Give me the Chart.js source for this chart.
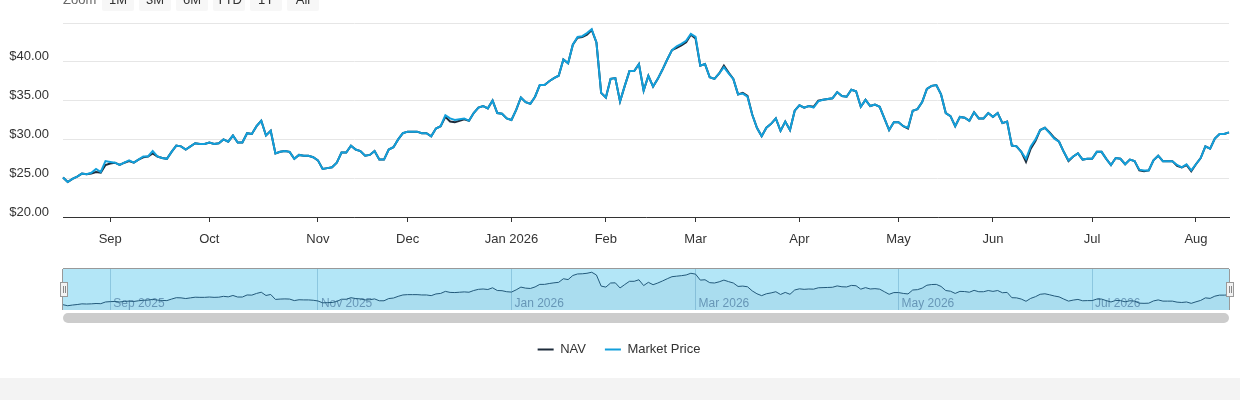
<!DOCTYPE html>
<html>
<head>
<meta charset="utf-8">
<title>NAV vs Market Price</title>
<script src="https://cdn.jsdelivr.net/npm/chart.js@4.4.1/dist/chart.umd.min.js"></script>
<style>
  html, body { margin: 0; padding: 0; background: #f3f3f3; }
  #wrap { position: relative; width: 1240px; height: 378px; background: #fff; overflow: hidden;
          font-family: "Liberation Sans", Arial, sans-serif; }
  #main { position: absolute; left: 0; top: 0; }
  .zoom-lbl { position: absolute; top: -11px; left: 63px; height: 22px; line-height: 22px; font-size: 13px; color: #666; }
  .rbtn { position: absolute; top: -11px; width: 32px; height: 22px; line-height: 22px; text-align: center;
          font-size: 13px; color: #333; background: #f7f7f7; border-radius: 2px; }
  #navWrap { position: absolute; left: 63px; top: 269px; width: 1166px; height: 41px;
             box-shadow: 0 -1px 0 #999, -1px 0 0 #999, 1px 0 0 #999; background: #b3e6f7; }
  #nav { position: absolute; left: 0; top: 0; }
  .handle { position: absolute; top: 282px; width: 8px; height: 15px; box-sizing: border-box;
            border: 1px solid #999; background: #f2f2f2; }
  .handle::before, .handle::after { content: ""; position: absolute; top: 3px; width: 1px; height: 7px; background: #888; }
  .handle::before { left: 2px; }
  .handle::after { left: 4px; }
  #scroll { position: absolute; left: 63px; top: 313px; width: 1166px; height: 10px; background: #ccc; border-radius: 5px; }
</style>
</head>
<body>
<div id="wrap">
  <canvas id="main" width="1240" height="378"></canvas>
  <div class="zoom-lbl">Zoom</div>
  <div class="rbtn" style="left:102px">1M</div>
  <div class="rbtn" style="left:139px">3M</div>
  <div class="rbtn" style="left:176px">6M</div>
  <div class="rbtn" style="left:213px">YTD</div>
  <div class="rbtn" style="left:250px">1Y</div>
  <div class="rbtn" style="left:287px">All</div>
  <div id="navWrap"><canvas id="nav" width="1166" height="41"></canvas></div>
  <div class="handle" style="left:60px"></div>
  <div class="handle" style="left:1226px"></div>
  <div id="scroll"></div>
</div>
<script>
// trading days from startDate, skipping weekends and these market holidays
const startDate = '2025-08-18';
const holidays = ['2025-09-01', '2025-11-27', '2025-12-25', '2026-01-01', '2026-01-19',
  '2026-02-16', '2026-04-03', '2026-05-25', '2026-06-19', '2026-07-03'];
const monthNames = ['Jan', 'Feb', 'Mar', 'Apr', 'May', 'Jun', 'Jul', 'Aug', 'Sep', 'Oct', 'Nov', 'Dec'];

const marketPrice = [
  25.1, 24.5, 24.9, 25.2, 25.6, 25.5, 25.7, 26.2, 25.8, 27.2,
  27.1, 27.0, 26.7, 27.0, 27.3, 27.0, 27.4, 27.8, 27.8, 28.5,
  27.8, 27.6, 27.5, 28.4, 29.2, 29.1, 28.7, 29.1, 29.5, 29.4,
  29.4, 29.6, 29.4, 29.5, 30.0, 29.7, 30.5, 29.6, 29.6, 30.8,
  30.7, 31.7, 32.4, 30.5, 31.1, 28.2, 28.4, 28.5, 28.4, 27.5,
  28.0, 27.9, 27.9, 27.7, 27.3, 26.2, 26.3, 26.4, 27.0, 28.3,
  28.3, 29.2, 28.7, 28.5, 27.9, 28.0, 28.5, 27.4, 27.4, 28.7,
  29.0, 30.0,
  30.8, 31.0, 31.0, 31.0, 30.8, 30.8, 30.4, 31.4, 31.7, 33.1,
  32.7, 32.5, 32.6, 32.7, 32.4, 33.4, 34.1, 34.3, 34.0, 35.0,
  33.4, 33.3, 32.7, 32.5, 33.8, 35.4, 34.8, 34.6, 35.5, 37.0,
  37.0, 37.5, 37.9, 38.2, 40.3, 39.8, 42.2, 43.2, 43.3, 43.7,
  44.2, 42.5, 36.0, 35.4, 37.8, 37.9, 34.9, 36.9, 38.8, 38.8,
  39.7, 36.3, 38.2, 36.8, 37.8, 39.0, 40.3, 41.5, 42.0, 42.3,
  42.7, 43.6, 43.2, 39.5, 39.7, 38.0, 37.8, 38.5, 39.3, 38.5,
  37.8, 35.8, 35.9, 35.5, 33.2, 31.5, 30.4, 31.5, 32.0, 32.7,
  31.1, 32.3, 31.2, 33.7, 34.4, 34.1, 34.3, 34.1, 34.9,
  35.1, 35.2, 35.3, 36.1, 35.6, 35.5, 36.4, 36.2, 34.2, 35.1,
  34.3, 34.5, 34.2, 32.7, 31.2, 32.2, 32.2, 31.7, 31.5, 33.7,
  33.9, 34.8, 36.5, 36.9, 37.0, 35.8, 33.4, 33.0, 31.7, 32.9,
  32.8, 32.4, 33.5, 32.7, 32.7, 33.4, 32.9, 33.4, 32.1, 32.3,
  29.2, 29.1, 28.4, 27.5, 29.1, 30.0, 31.2, 31.5, 30.8, 30.1,
  29.7, 28.4, 27.3, 27.8, 28.2, 27.4, 27.5, 27.5, 28.4, 28.4,
  27.5, 26.7, 27.6, 27.5, 26.8, 27.4, 27.2, 26.1, 26.0, 26.0,
  27.3, 27.9, 27.2, 27.2, 27.2, 26.7, 26.4, 26.8, 26.0, 26.8,
  27.6, 29.1, 28.8, 30.1, 30.7, 30.7, 30.9
];

const nav = [
  25.1, 24.5, 24.9, 25.2, 25.6, 25.5, 25.6, 25.8, 25.7, 26.7,
  26.9, 27.0, 26.7, 27.0, 27.2, 27.0, 27.4, 27.7, 27.8, 28.2,
  27.8, 27.6, 27.5, 28.4, 29.2, 29.1, 28.7, 29.1, 29.5, 29.4,
  29.4, 29.6, 29.4, 29.5, 30.0, 29.7, 30.5, 29.6, 29.6, 30.8,
  30.7, 31.7, 32.4, 30.5, 31.1, 28.2, 28.4, 28.5, 28.4, 27.5,
  28.0, 27.9, 27.9, 27.7, 27.3, 26.2, 26.3, 26.4, 27.0, 28.3,
  28.3, 29.2, 28.7, 28.5, 27.9, 28.0, 28.5, 27.4, 27.4, 28.7,
  29.0, 30.0,
  30.8, 31.0, 31.0, 31.0, 30.8, 30.8, 30.4, 31.4, 31.7, 32.9,
  32.3, 32.2, 32.4, 32.6, 32.4, 33.4, 34.1, 34.3, 34.0, 35.0,
  33.4, 33.3, 32.7, 32.5, 33.8, 35.4, 34.8, 34.6, 35.5, 37.0,
  37.0, 37.5, 37.9, 38.2, 40.3, 39.8, 42.2, 43.1, 43.2, 43.5,
  44.1, 42.5, 36.0, 35.4, 37.8, 37.9, 34.9, 36.9, 38.8, 38.8,
  39.7, 36.3, 38.2, 36.8, 37.8, 39.0, 40.3, 41.5, 41.8, 42.1,
  42.5, 43.5, 43.0, 39.5, 39.7, 38.0, 37.8, 38.5, 39.5, 38.6,
  37.8, 35.8, 36.0, 35.6, 33.2, 31.5, 30.4, 31.5, 32.0, 32.7,
  31.1, 32.3, 31.2, 33.7, 34.4, 34.1, 34.3, 34.2, 35.0,
  35.1, 35.2, 35.3, 36.1, 35.6, 35.5, 36.4, 36.2, 34.2, 35.1,
  34.3, 34.5, 34.2, 32.7, 31.2, 32.2, 32.2, 31.7, 31.4, 33.7,
  33.9, 34.8, 36.5, 36.9, 37.0, 35.8, 33.4, 33.0, 31.7, 32.9,
  32.8, 32.4, 33.5, 32.7, 32.7, 33.4, 32.9, 33.4, 32.1, 32.3,
  29.2, 29.1, 28.4, 27.1, 28.8, 29.8, 31.2, 31.5, 30.9, 30.2,
  29.7, 28.4, 27.2, 27.8, 28.2, 27.4, 27.5, 27.5, 28.4, 28.4,
  27.5, 26.7, 27.6, 27.5, 26.8, 27.4, 27.2, 26.0, 25.9, 26.0,
  27.3, 27.9, 27.2, 27.2, 27.2, 26.6, 26.4, 26.7, 25.9, 26.8,
  27.6, 29.1, 28.8, 30.1, 30.7, 30.7, 30.9
];

function tradingDays(start, count, skip) {
  const out = [];
  const d = new Date(start + 'T00:00:00Z');
  while (out.length < count) {
    const wd = d.getUTCDay();
    const iso = d.toISOString().slice(0, 10);
    if (wd !== 0 && wd !== 6 && !skip.includes(iso)) out.push(iso);
    d.setUTCDate(d.getUTCDate() + 1);
  }
  return out;
}

const labels = tradingDays(startDate, marketPrice.length, holidays);
const monthOf = i => Number(labels[i].slice(5, 7)) - 1;
const yearOf = i => labels[i].slice(0, 4);
const isMonthStart = i => i > 0 && labels[i].slice(0, 7) !== labels[i - 1].slice(0, 7);
const isNavTick = i => isMonthStart(i) && monthOf(i) % 2 === 0;

Chart.defaults.font.family = '"Liberation Sans", Arial, sans-serif';
Chart.defaults.color = '#333';

new Chart(document.getElementById('main'), {
  type: 'line',
  data: {
    labels: labels,
    datasets: [{
      label: 'NAV',
      data: nav,
      borderColor: '#1d2b3a',
      backgroundColor: '#1d2b3a',
      borderWidth: 2,
      pointRadius: 0,
      order: 1
    }, {
      label: 'Market Price',
      data: marketPrice,
      borderColor: '#129fdb',
      backgroundColor: '#129fdb',
      borderWidth: 2,
      pointRadius: 0,
      order: 0
    }]
  },
  options: {
    responsive: false,
    animation: false,
    events: [],
    layout: { padding: { top: 23, right: 11, left: 9, bottom: 12 } },
    plugins: {
      tooltip: { enabled: false },
      legend: {
        position: 'bottom',
        labels: {
          usePointStyle: true,
          pointStyle: 'line',
          pointStyleWidth: 16,
          padding: 19,
          font: { size: 13 },
          color: '#333',
          sort: (a, b) => a.datasetIndex - b.datasetIndex
        }
      }
    },
    scales: {
      x: {
        type: 'category',
        border: { color: '#333', width: 1 },
        grid: {
          drawOnChartArea: false,
          drawTicks: true,
          tickLength: 5,
          tickColor: ctx => isMonthStart(ctx.index) ? '#333' : 'rgba(0,0,0,0)'
        },
        ticks: {
          autoSkip: false,
          maxRotation: 0,
          minRotation: 0,
          padding: 10,
          font: { size: 13 },
          color: '#333',
          callback: (value, index) => {
            if (!isMonthStart(index)) return '';
            const m = monthOf(index);
            return m === 0 ? monthNames[m] + ' ' + yearOf(index) : monthNames[m];
          }
        },
        afterFit: scale => { scale.height = 107; }
      },
      y: {
        min: 20,
        max: 45,
        border: { display: false },
        grid: { color: '#e6e6e6', drawTicks: false },
        ticks: {
          stepSize: 5,
          padding: 14,
          labelOffset: -5,
          font: { size: 13 },
          color: '#333',
          callback: v => v === 45 ? '' : '$' + v.toFixed(2)
        },
        afterFit: scale => { scale.width = 54; }
      }
    }
  }
});

// navigator strip
new Chart(document.getElementById('nav'), {
  type: 'line',
  data: {
    labels: labels,
    datasets: [{
      data: nav,
      borderColor: '#22597a',
      backgroundColor: 'rgba(29,60,90,0.05)',
      borderWidth: 1,
      pointRadius: 0,
      fill: 'start'
    }]
  },
  options: {
    responsive: false,
    animation: false,
    events: [],
    layout: { padding: 0 },
    plugins: { legend: { display: false }, tooltip: { enabled: false } },
    scales: {
      x: {
        border: { display: false },
        grid: {
          drawTicks: false,
          color: ctx => isNavTick(ctx.index) ? 'rgba(70,140,180,0.35)' : 'rgba(0,0,0,0)'
        },
        ticks: {
          mirror: true,
          autoSkip: false,
          maxRotation: 0,
          minRotation: 0,
          align: 'start',
          labelOffset: 3,
          padding: -1,
          font: { size: 12 },
          color: '#6b9bbb',
          callback: (value, index) => isNavTick(index) ? monthNames[monthOf(index)] + ' ' + yearOf(index) : ''
        },
        afterFit: scale => { scale.height = 0; }
      },
      y: { display: false, min: 22, max: 46 }
    }
  }
});
</script>
</body>
</html>
